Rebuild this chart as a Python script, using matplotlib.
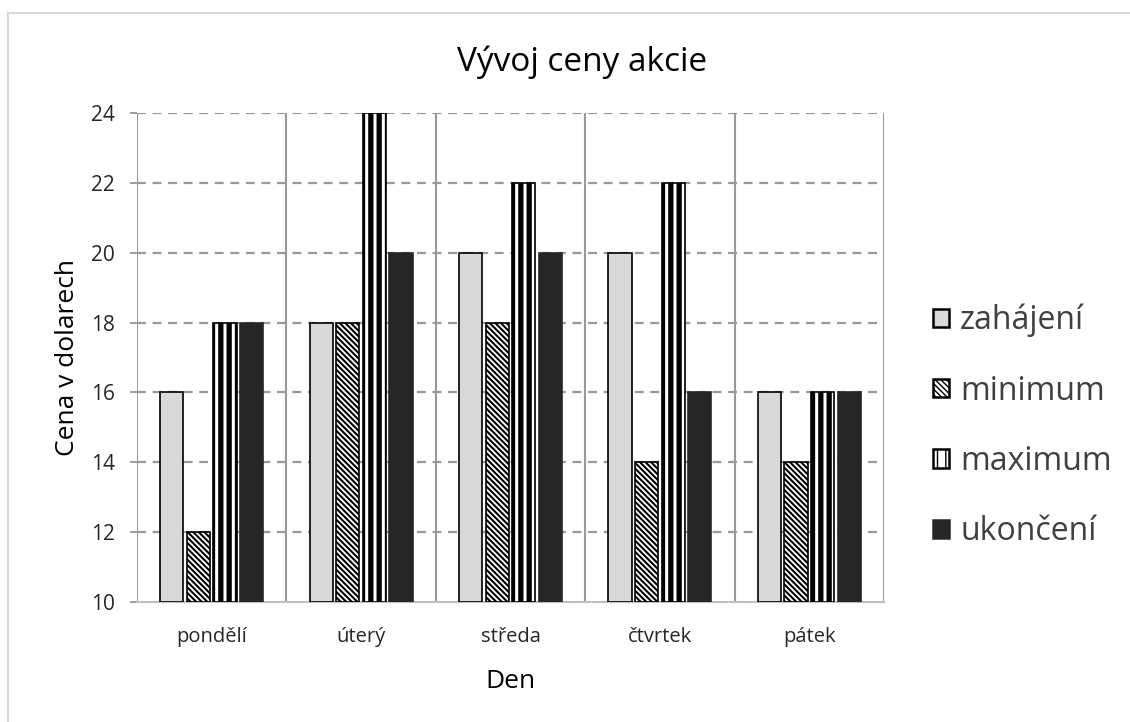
import numpy as np
import matplotlib
matplotlib.use('Agg')
import matplotlib.pyplot as plt
from matplotlib.patches import Rectangle

plt.rcParams['font.family'] = ['Open Sans', 'DejaVu Sans']

# data
days = ['pondělí', 'úterý', 'středa', 'čtvrtek', 'pátek']
zahajeni = [16, 18, 20, 20, 16]
minimum = [12, 18, 18, 14, 14]
maximum = [18, 24, 22, 22, 16]
ukonceni = [18, 20, 20, 16, 16]
series_names = ['zahájení', 'minimum', 'maximum', 'ukončení']
yticks = [10, 12, 14, 16, 18, 20, 22, 24]

fig = plt.figure(figsize=(11.3, 7.22), dpi=100)
ax = fig.add_axes([137 / 1130, 1 - 602 / 722, (884 - 137) / 1130, (602 - 113) / 722])

# light outer frame (like the chart area border)
fig.patches.append(Rectangle((8 / 1130, -0.1), 1.2, 1 - 13 / 722 + 0.1,
                             transform=fig.transFigure, fill=False,
                             edgecolor='#d9d9d9', linewidth=1.5))

x = np.arange(len(days))
w = 0.155
step = 0.178
offsets = (np.arange(4) - 1.5) * step

styles = [
    dict(color='#d9d9d9', edgecolor='black', hatch=None, hlw=1.0),
    dict(color='white', edgecolor='black', hatch='\\' * 6, hlw=1.5),
    dict(color='white', edgecolor='black', hatch='||', hlw=3.8),
    dict(color='#262626', edgecolor='#262626', hatch=None, hlw=1.0),
]


def set_hlw(patch, lw):
    if hasattr(patch, 'set_hatch_linewidth'):
        patch.set_hatch_linewidth(lw)
    else:
        patch._hatch_linewidth = lw


handles = []
for vals, off, st, name in zip([zahajeni, minimum, maximum, ukonceni], offsets, styles, series_names):
    with plt.rc_context({'hatch.linewidth': st['hlw'], 'hatch.color': 'black'}):
        bars = ax.bar(x + off, np.array(vals) - 10, w, bottom=10, color=st['color'],
                      edgecolor=st['edgecolor'], linewidth=1.2, hatch=st['hatch'],
                      label=name, zorder=3)
    for p in bars:
        set_hlw(p, st['hlw'])
    handles.append(bars)

ax.set_xlim(-0.5, len(days) - 0.5)
ax.set_ylim(10, 24)
ax.set_yticks(yticks)
ax.set_xticks(x)
ax.set_xticklabels(days, fontsize=14.5, color='#262626')
ax.tick_params(axis='y', labelsize=15, length=5, color='#8c8c8c', width=1.2, pad=11,
               labelcolor='#262626')
ax.tick_params(axis='x', length=0, pad=18)

# horizontal dashed grid
for yv in yticks[1:]:
    ax.axhline(yv, color='#999999', linewidth=1.6, linestyle=(0, (4, 3)), zorder=1)
# category separators
for xv in np.arange(len(days) + 1) - 0.5:
    ax.axvline(xv, color='#999999', linewidth=1.5, zorder=1)

for s in ['top', 'right', 'left']:
    ax.spines[s].set_visible(False)
ax.spines['bottom'].set_color('#bfbfbf')
ax.spines['bottom'].set_linewidth(1.5)

ax.set_xlabel('Den', fontsize=19, labelpad=16)
ax.set_ylabel('Cena v dolarech', fontsize=19)
ax.yaxis.set_label_coords((80 - 137) / 747, 0.5)
fig.text(582 / 1130, 1 - 62 / 722, 'Vývoj ceny akcie', fontsize=24, ha='center', va='center')

leg = fig.legend(handles=handles, labels=series_names, loc='center left',
                 bbox_to_anchor=(917 / 1130, 1 - 426 / 722), frameon=False, borderpad=0,
                 fontsize=23, handlelength=0.5, handleheight=0.5,
                 handletextpad=0.35, labelspacing=1.17)
for t in leg.get_texts():
    t.set_color('#404040')
for h in leg.legend_handles:
    h.set_linewidth(1.8)

fig.savefig('out.png', dpi=100)
